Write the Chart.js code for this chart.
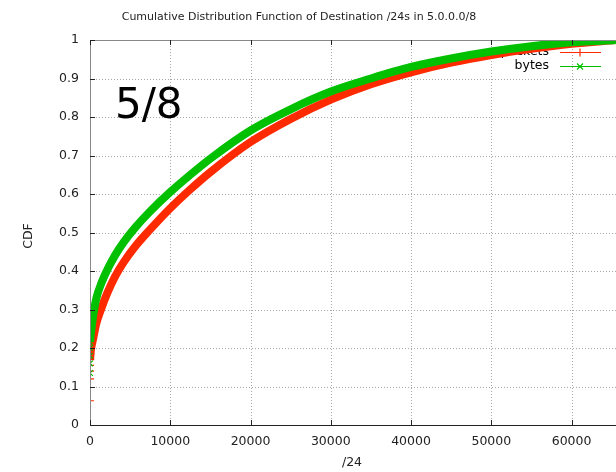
<!DOCTYPE html>
<html>
<head>
<meta charset="utf-8">
<script src="https://cdn.jsdelivr.net/npm/chart.js@4"></script>
<style>
  html, body { margin: 0; padding: 0; background: #fff; }
  #wrap { width: 616px; height: 472px; }
</style>
</head>
<body>
<div id="wrap"><canvas id="myChart" width="616" height="472"></canvas></div>
<script>
'use strict';

const positions = [0, 1, 3, 8, 20, 60, 150, 400, 800, 1450, 2200, 3100, 4200, 5600, 7500,
  10000, 12500, 15000, 20000, 25000, 30000, 35000, 40000, 45000, 50000, 55000, 60000, 65535];
const packetsCdf = [0.063, 0.12, 0.14, 0.155, 0.17, 0.185, 0.2, 0.225, 0.265, 0.305, 0.345, 0.385,
  0.423, 0.463, 0.508, 0.563, 0.612, 0.657, 0.735, 0.795, 0.845, 0.885, 0.916, 0.941, 0.961, 0.977, 0.99, 1];
const bytesCdf = [0.135, 0.16, 0.18, 0.2, 0.215, 0.23, 0.245, 0.285, 0.33, 0.37, 0.405, 0.44,
  0.475, 0.512, 0.555, 0.605, 0.65, 0.692, 0.765, 0.82, 0.866, 0.9, 0.93, 0.952, 0.97, 0.984, 0.994, 1];
const xTicks = [0, 10000, 20000, 30000, 40000, 50000, 60000];
const yTicks = [0, 0.1, 0.2, 0.3, 0.4, 0.5, 0.6, 0.7, 0.8, 0.9, 1];

const seriesNames = ['packets', 'bytes'];
const redColor = '#ff2a00';
const greenColor = '#00c000';
const font = 'DejaVu Sans';

function toPoints(values) {
  return positions.map((x, i) => ({ x: x, y: values[i] }));
}

// only the first few points show as separate markers, the rest is a fat band
function markerRadius(ctx) {
  return ctx.raw && ctx.raw.x < 100 ? 4 : 0;
}
function hideNearZero(ctx) {
  return ctx.p1.parsed.x <= 20 ? 'rgba(0,0,0,0)' : undefined;
}

// gnuplot-ish frame: dotted grid, borders, inward ticks, texts
const gnuplotFrame = {
  id: 'gnuplotFrame',
  beforeDatasetsDraw(chart) {
    const c = chart.ctx;
    const area = chart.chartArea;
    const xs = chart.scales.x;
    const ys = chart.scales.y;
    c.save();
    c.strokeStyle = '#a8a8a8';
    c.lineWidth = 1;
    c.setLineDash([1, 2]);
    xTicks.forEach(v => {
      const px = Math.round(xs.getPixelForValue(v)) + 0.5;
      if (v === 0) return;
      c.beginPath();
      c.moveTo(px, area.top);
      c.lineTo(px, area.bottom);
      c.stroke();
    });
    yTicks.forEach(v => {
      const py = Math.round(ys.getPixelForValue(v)) + 0.5;
      if (v === 0 || v === 1) return;
      c.beginPath();
      c.moveTo(area.left, py);
      c.lineTo(area.right, py);
      c.stroke();
    });
    c.setLineDash([]);

    // "5/8" label
    c.fillStyle = '#000';
    c.font = '42px ' + font;
    c.textAlign = 'left';
    c.textBaseline = 'alphabetic';
    c.fillText('5/8', 115, 118);

    // key, drawn under the curves
    c.font = '12.5px ' + font;
    c.textAlign = 'right';
    c.textBaseline = 'middle';
    const keyRows = [[seriesNames[0], redColor, 52], [seriesNames[1], greenColor, 66]];
    keyRows.forEach(([label, color, y], i) => {
      c.fillStyle = '#000';
      c.fillText(label, 549, y);
      c.strokeStyle = color;
      c.lineWidth = 1.2;
      c.beginPath();
      c.moveTo(560, y + 0.5);
      c.lineTo(601, y + 0.5);
      c.stroke();
      c.beginPath();
      if (i === 0) {
        c.moveTo(576, y + 0.5); c.lineTo(584, y + 0.5);
        c.moveTo(580, y - 3.5); c.lineTo(580, y + 4.5);
      } else {
        c.moveTo(577, y - 2.5); c.lineTo(583, y + 3.5);
        c.moveTo(583, y - 2.5); c.lineTo(577, y + 3.5);
      }
      c.stroke();
    });
    c.restore();
  },
  afterDraw(chart) {
    const c = chart.ctx;
    const area = chart.chartArea;
    const xs = chart.scales.x;
    const ys = chart.scales.y;
    c.save();
    // borders
    c.lineWidth = 1;
    c.strokeStyle = '#888';
    c.beginPath();
    c.moveTo(area.left + 0.5, area.top + 0.5);
    c.lineTo(area.left + 0.5, area.bottom);
    c.moveTo(area.left, area.top + 0.5);
    c.lineTo(area.right, area.top + 0.5);
    c.stroke();
    c.strokeStyle = '#222';
    c.beginPath();
    c.moveTo(area.left, area.bottom + 0.5);
    c.lineTo(area.right, area.bottom + 0.5);
    c.stroke();
    // inward ticks
    c.strokeStyle = '#222';
    c.beginPath();
    yTicks.forEach(v => {
      const py = Math.round(ys.getPixelForValue(v)) + 0.5;
      c.moveTo(area.left, py);
      c.lineTo(area.left + 5, py);
    });
    xTicks.forEach(v => {
      const px = Math.round(xs.getPixelForValue(v)) + 0.5;
      c.moveTo(px, area.bottom);
      c.lineTo(px, area.bottom - 5);
      c.moveTo(px, area.top);
      c.lineTo(px, area.top + 5);
    });
    c.stroke();

    // titles
    c.fillStyle = '#222';
    c.textAlign = 'center';
    c.textBaseline = 'middle';
    c.font = '11px ' + font;
    c.fillText('Cumulative Distribution Function of Destination /24s in 5.0.0.0/8', 299, 17);
    c.font = '12.5px ' + font;
    c.fillText('/24', 352, 463);
    c.translate(29, 236);
    c.rotate(-Math.PI / 2);
    c.fillText('CDF', 0, 0);
    c.restore();
  }
};

const chartCanvas = document.getElementById('myChart');

function commonSeries(color, style) {
  return {
    borderColor: color,
    backgroundColor: color,
    borderWidth: 8,
    pointStyle: style,
    pointRadius: markerRadius,
    pointBorderWidth: 1.2,
    pointBorderColor: color,
    cubicInterpolationMode: 'monotone',
    segment: { borderColor: hideNearZero }
  };
}

new Chart(chartCanvas, {
  type: 'line',
  data: {
    datasets: [
      Object.assign({ label: seriesNames[1], data: toPoints(bytesCdf), order: 0 }, commonSeries(greenColor, 'crossRot')),
      Object.assign({ label: seriesNames[0], data: toPoints(packetsCdf), order: 1 }, commonSeries(redColor, 'cross'))
    ]
  },
  options: {
    responsive: false,
    animation: false,
    layout: { autoPadding: false, padding: { top: 40, left: 0, right: 0, bottom: 0 } },
    plugins: {
      legend: { display: false },
      title: { display: false },
      tooltip: { enabled: false }
    },
    scales: {
      x: {
        type: 'linear',
        min: 0,
        max: 65536,
        afterFit: s => { s.height = 47; s.paddingLeft = 0; s.paddingRight = 0; },
        afterBuildTicks: s => { s.ticks = xTicks.map(v => ({ value: v })); },
        grid: { display: false, drawTicks: false },
        border: { display: false },
        ticks: {
          padding: 9,
          maxRotation: 0,
          autoSkip: false,
          color: '#222',
          font: { family: font, size: 12.5 },
          callback: v => String(v)
        }
      },
      y: {
        min: 0,
        max: 1,
        afterFit: s => { s.width = 90; s.paddingTop = 0; s.paddingBottom = 0; },
        afterBuildTicks: s => { s.ticks = yTicks.map(v => ({ value: v })); },
        grid: { display: false, drawTicks: false },
        border: { display: false },
        ticks: {
          padding: 11,
          autoSkip: false,
          color: '#222',
          font: { family: font, size: 12.5 },
          callback: v => String(Number(v.toFixed(1)))
        }
      }
    }
  },
  plugins: [gnuplotFrame]
});
</script>
</body>
</html>
